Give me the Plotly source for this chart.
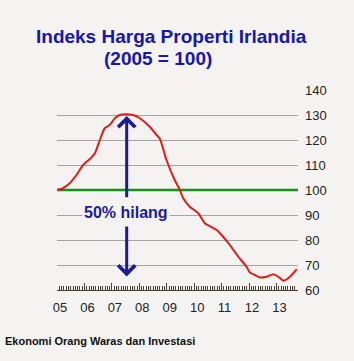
import plotly.graph_objects as go

# Data (decimal year, index 2005 = 100)
years = [2005.0, 2005.22, 2005.46, 2005.71, 2005.95, 2006.19, 2006.38, 2006.56, 2006.74,
         2006.92, 2007.11, 2007.29, 2007.5, 2007.77, 2008.02, 2008.38, 2008.63, 2008.75,
         2008.99, 2009.29, 2009.48, 2009.60, 2009.84, 2010.15, 2010.39, 2010.82, 2011.0,
         2011.30, 2011.61, 2011.91, 2012.03, 2012.21, 2012.39, 2012.64, 2012.88, 2013.07,
         2013.25, 2013.43, 2013.61, 2013.74]
index_values = [100, 100.7, 102.7, 106, 110, 112.3, 114.7, 120, 124.7,
                126, 128.7, 130, 130.3, 130, 128.7, 125.3, 122, 120.5,
                112, 104, 100, 96.7, 93.3, 90.7, 86.7, 84, 82,
                78, 73.3, 69.3, 67, 66, 65, 65.3, 66.3, 65.3,
                63.7, 64.7, 66.7, 68.3]
year_ticks = [2005, 2006, 2007, 2008, 2009, 2010, 2011, 2012, 2013]
year_labels = ["05", "06", "07", "08", "09", "10", "11", "12", "13"]
y_ticks = [60, 70, 80, 90, 100, 110, 120, 130, 140]
baseline = 100
arrow_x = 2007.54
arrow_top, arrow_bottom = 129.6, 65.4
label_y = 91

W, H = 354, 361
ML, MR, MT, MB = 57, 56, 90, 71
PW, PH = W - ML - MR, H - MT - MB

def px(xp):
    return (xp - ML) / PW

def py(yp):
    return (H - MB - yp) / PH

BG = "#f4f3f1"
NAVY = "#1b1b9c"

fig = go.Figure()
fig.add_trace(go.Scatter(x=[2005, 2013.785], y=[baseline, baseline], mode="lines",
                         line=dict(color="#17901a", width=2.5), hoverinfo="skip"))
fig.add_trace(go.Scatter(x=years, y=index_values, mode="lines",
                         line=dict(color="#e11d1a", width=2, shape="spline", smoothing=0.6)))

# arrows
fig.add_annotation(x=arrow_x, y=arrow_top, ax=arrow_x, ay=96.5, xref="x", yref="y",
                   axref="x", ayref="y", showarrow=True, arrowhead=4, arrowsize=1.1,
                   arrowwidth=3, arrowcolor=NAVY, text="")
fig.add_annotation(x=arrow_x, y=arrow_bottom, ax=arrow_x, ay=86, xref="x", yref="y",
                   axref="x", ayref="y", showarrow=True, arrowhead=4, arrowsize=1.1,
                   arrowwidth=3, arrowcolor=NAVY, text="")
fig.add_annotation(x=2007.5, y=label_y, xref="x", yref="y", showarrow=False,
                   text="<b>50% hilang</b>", font=dict(family="Arial", size=16, color=NAVY),
                   bgcolor=BG)

# titles
fig.add_annotation(x=px(171.7), y=py(36), xref="paper", yref="paper", showarrow=False,
                   text="<b>Indeks Harga Properti Irlandia</b>", xanchor="center", yanchor="middle",
                   font=dict(family="Arial", size=19, color="#1616b0"))
fig.add_annotation(x=px(157.5), y=py(59), xref="paper", yref="paper", showarrow=False,
                   text="<b>(2005 = 100)</b>", xanchor="center", yanchor="middle",
                   font=dict(family="Arial", size=19, color="#1616b0"))
fig.add_annotation(x=px(3), y=py(341), xref="paper", yref="paper", showarrow=False,
                   text="<b>Ekonomi Orang Waras dan Investasi</b>", xanchor="left", yanchor="middle",
                   font=dict(family="Arial", size=11, color="#111111"))

fig.update_layout(
    width=W, height=H, margin=dict(l=ML, r=MR, t=MT, b=MB),
    paper_bgcolor=BG, plot_bgcolor=BG, showlegend=False,
    xaxis=dict(range=[2005, 2013.785], tickvals=year_ticks, ticktext=year_labels,
               ticks="inside", ticklen=7, tickcolor="#4a4036", tickwidth=1,
               showline=True, linecolor="#4a4036", linewidth=1, showgrid=False, zeroline=False,
               ticklabelshift=3, ticklabelstandoff=5,
               minor=dict(dtick=1/12, tick0=2005, ticks="inside", ticklen=4,
                          tickcolor="#4a4036", tickwidth=1, showgrid=False),
               tickfont=dict(family="Arial", size=13, color="#222222")),
    yaxis=dict(range=[60, 140], tickvals=y_ticks, side="right", showgrid=True,
               gridcolor="#a3a3a3", gridwidth=1, zeroline=False, showline=False, ticks="",
               ticklabelstandoff=6,
               tickfont=dict(family="Arial", size=13, color="#222222")),
)

fig.write_html("out.html")
